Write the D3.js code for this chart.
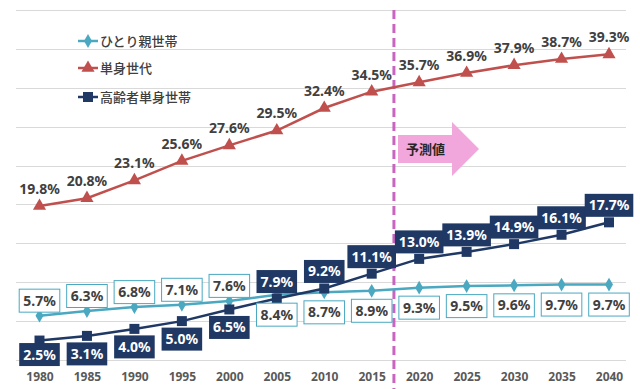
<!DOCTYPE html>
<html>
<head>
<meta charset="utf-8">
<script src="https://cdn.jsdelivr.net/npm/d3@7"></script>
<style>
  body { margin: 0; background: #fff; }
  svg { display: block; font-family: "Noto Sans", "Noto Sans CJK JP", sans-serif; }
</style>
</head>
<body>
<div id="chart"></div>
<script>
const years = [1980, 1985, 1990, 1995, 2000, 2005, 2010, 2015, 2020, 2025, 2030, 2035, 2040];
const singleParent = [5.7, 6.3, 6.8, 7.1, 7.6, 8.4, 8.7, 8.9, 9.3, 9.5, 9.6, 9.7, 9.7];
const singlePerson = [19.8, 20.8, 23.1, 25.6, 27.6, 29.5, 32.4, 34.5, 35.7, 36.9, 37.9, 38.7, 39.3];
const elderlySingle = [2.5, 3.1, 4.0, 5.0, 6.5, 7.9, 9.2, 11.1, 13.0, 13.9, 14.9, 16.1, 17.7];
const seriesNames = ["ひとり親世帯", "単身世代", "高齢者単身世帯"];
const yTicks = [0, 5, 10, 15, 20, 25, 30, 35, 40, 45];
const forecastLabel = "予測値";

(function () {
  const W = 640, H = 389;
  const teal = "#4aa8c0", red = "#c0504d", navy = "#1f3864";

  const svg = d3.select("#chart").append("svg")
    .attr("width", W).attr("height", H);

  const x = d3.scalePoint().domain(years).range([39.5, 609]);
  const y = d3.scaleLinear().domain([0, 45]).range([360, 10]);

  // gridlines
  svg.append("g")
    .selectAll("line")
    .data(yTicks)
    .join("line")
    .attr("x1", 16).attr("x2", 626)
    .attr("y1", d => Math.round(y(d)) + 0.5)
    .attr("y2", d => Math.round(y(d)) + 0.5)
    .attr("stroke", "#d9d9d9").attr("stroke-width", 1);

  // x axis labels
  const xAxis = svg.append("g")
    .attr("transform", "translate(0,366)")
    .call(d3.axisBottom(x).tickSize(0).tickPadding(6));
  xAxis.select(".domain").remove();
  xAxis.selectAll("text")
    .attr("font-family", "'Noto Sans', sans-serif")
    .attr("font-size", 12).attr("font-weight", 700)
    .attr("fill", "#595959");

  // forecast arrow
  const ax0 = 398, ax1 = 452, ax2 = 479, ay0 = 135, ay1 = 163, hy0 = 122, hy1 = 176;
  svg.append("path")
    .attr("d", `M${ax0},${ay0}H${ax1}V${hy0}L${ax2},${(hy0 + hy1) / 2}L${ax1},${hy1}V${ay1}H${ax0}Z`)
    .attr("fill", "#f1a6dc");
  svg.append("text")
    .attr("x", 406).attr("y", 149)
    .attr("dy", "0.35em")
    .attr("font-family", "'Noto Sans CJK JP', sans-serif")
    .attr("font-size", 13).attr("font-weight", 700)
    .attr("fill", "#262626")
    .text(forecastLabel);

  // dashed divider between 2015 and 2020
  const divX = (x(2015) + x(2020)) / 2 - 1.5;
  svg.append("line")
    .attr("x1", divX).attr("x2", divX)
    .attr("y1", 10).attr("y2", H)
    .attr("stroke", "#c964c0").attr("stroke-width", 3)
    .attr("stroke-dasharray", "9,5");

  const line = d3.line().x((d, i) => x(years[i])).y(d => y(d));

  const tri = d3.symbol().type(d3.symbolTriangle).size(75);
  const sq = d3.symbol().type(d3.symbolSquare).size(100);
  const dia = d3.symbol().type(d3.symbolDiamond).size(55);

  function drawSeries(vals, color, sym) {
    svg.append("path")
      .datum(vals)
      .attr("d", line)
      .attr("fill", "none")
      .attr("stroke", color)
      .attr("stroke-width", 2.5);
    svg.append("g")
      .selectAll("path")
      .data(vals)
      .join("path")
      .attr("transform", (d, i) => `translate(${x(years[i])},${y(d)})`)
      .attr("d", sym)
      .attr("fill", color);
  }

  drawSeries(singleParent, teal, dia);
  drawSeries(singlePerson, red, tri);
  drawSeries(elderlySingle, navy, sq);

  // red labels (plain text above)
  svg.append("g")
    .selectAll("text")
    .data(singlePerson)
    .join("text")
    .attr("x", (d, i) => x(years[i]))
    .attr("y", d => y(d) - 17)
    .attr("dy", "0.35em")
    .attr("text-anchor", "middle")
    .attr("font-size", 14).attr("font-weight", 700)
    .attr("fill", "#404040")
    .text(d => d.toFixed(1) + "%");

  // boxed labels, box sized to the text
  function boxLabels(vals, fill, stroke, textColor, offsetFn) {
    const g = svg.append("g")
      .selectAll("g")
      .data(vals)
      .join("g")
      .attr("transform", (d, i) => `translate(${x(years[i])},${y(d) + offsetFn(i)})`);
    const rect = g.append("rect")
      .attr("fill", fill)
      .attr("stroke", stroke).attr("stroke-width", 1);
    const txt = g.append("text")
      .attr("text-anchor", "middle")
      .attr("dy", "0.36em")
      .attr("font-size", 14).attr("font-weight", 700)
      .attr("fill", textColor)
      .text(d => d.toFixed(1) + "%");
    txt.each(function (d, i) {
      const w = this.getComputedTextLength() + 8;
      d3.select(rect.nodes()[i])
        .attr("x", -w / 2).attr("y", -11.5)
        .attr("width", w).attr("height", 23);
    });
  }

  // teal: above until 2000, below after
  boxLabels(singleParent, "#fff", teal, "#404040", i => (i <= 4 ? -15 : 20));
  // navy: below until 2000, above after
  boxLabels(elderlySingle, navy, "none", "#fff", i => (i === 0 ? 14 : i <= 4 ? 18 : -17));

  // legend
  const legend = svg.append("g");
  const items = [
    { name: seriesNames[0], color: teal, sym: dia, y: 41 },
    { name: seriesNames[1], color: red, sym: tri, y: 68 },
    { name: seriesNames[2], color: navy, sym: sq, y: 97 }
  ];
  items.forEach(it => {
    legend.append("line")
      .attr("x1", 78).attr("x2", 98)
      .attr("y1", it.y).attr("y2", it.y)
      .attr("stroke", it.color).attr("stroke-width", 2.5);
    legend.append("path")
      .attr("transform", `translate(88,${it.y})`)
      .attr("d", it.sym)
      .attr("fill", it.color);
    legend.append("text")
      .attr("x", 100).attr("y", it.y)
      .attr("dy", "0.35em")
      .attr("font-family", "'Noto Sans CJK JP', sans-serif")
      .attr("font-size", 13).attr("font-weight", 500)
      .attr("fill", "#404040")
      .text(it.name);
  });
})();
</script>
</body>
</html>
